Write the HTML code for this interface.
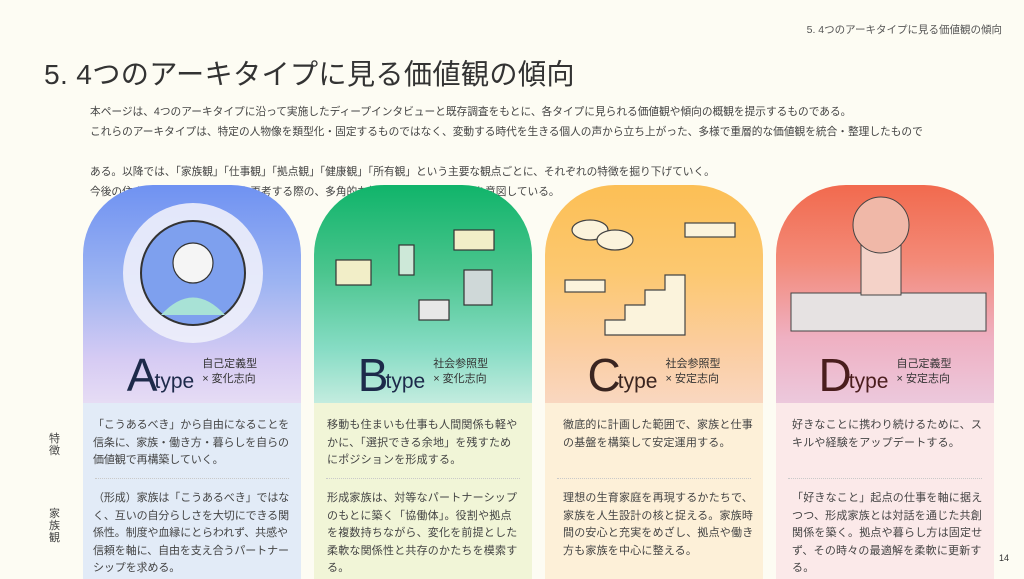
<!DOCTYPE html>
<html><head><meta charset="utf-8"><style>
*{margin:0;padding:0;box-sizing:border-box}
body{width:1024px;height:579px;background:#fdfcf3;font-family:"Liberation Sans","Noto Sans CJK JP",sans-serif;position:relative;overflow:hidden;color:#444}
.hdr{position:absolute;right:22px;top:22px;font-size:10.5px;color:#555}
h1{position:absolute;left:44px;top:52px;font-size:28.2px;font-weight:normal;color:#333;letter-spacing:0.3px}
.intro{position:absolute;left:90px;top:102px;font-size:10.7px;line-height:20px;color:#444}
.col{position:absolute;top:185px;width:218px;height:394px}
.top{position:absolute;left:0;top:0;width:218px;height:218px;border-radius:70px 70px 0 0;overflow:hidden}
.body{position:absolute;left:0;top:218px;width:218px;height:176px}
.lab{position:absolute;top:163px;left:0;width:218px;text-align:center;white-space:nowrap}
.big{font-size:46px;color:#1d2a4a;vertical-align:-3px}
.ty{font-size:21px;color:#1d2a4a;margin-left:-3px}
.sub{display:inline-block;font-size:11px;line-height:15px;text-align:left;margin-left:8px;vertical-align:6px;color:#333}
.t{position:absolute;left:13px;width:205px;font-size:11px;line-height:17.5px;color:#444;letter-spacing:0.2px;white-space:nowrap}
.t1{top:14px}.t2{top:87px}
.dot{position:absolute;left:12px;right:12px;top:75px;border-top:1px dotted #c9c9c9}
.side{position:absolute;left:49px;font-size:11px;width:12px;line-height:12px;color:#444}
</style></head><body>
<div class="hdr">5. 4つのアーキタイプに見る価値観の傾向</div>
<h1>5. 4つのアーキタイプに見る価値観の傾向</h1>
<div class="intro">本ページは、4つのアーキタイプに沿って実施したディープインタビューと既存調査をもとに、各タイプに見られる価値観や傾向の概観を提示するものである。<br>これらのアーキタイプは、特定の人物像を類型化・固定するものではなく、変動する時代を生きる個人の声から立ち上がった、多様で重層的な価値観を統合・整理したもので<br><br>ある。以降では、「家族観」「仕事観」「拠点観」「健康観」「所有観」という主要な観点ごとに、それぞれの特徴を掘り下げていく。<br>今後の住まいや暮らしの在り方を再考する際の、多角的な視点の一助となることを意図している。</div>

<div class="side" style="top:433px">特徴</div>
<div class="side" style="top:508px">家族観</div>

<div class="col" style="left:83px">
 <div class="top" style="background:linear-gradient(180deg,#6f92f2 0%,#9db4f2 45%,#d6cbf3 80%,#e6dcf4 100%)">
  <svg width="218" height="218" style="position:absolute;left:0;top:0"><circle cx="110" cy="88" r="70" fill="#eef0fb" opacity="0.9"/><circle cx="110" cy="88" r="52" fill="#7ea0ee" stroke="#333" stroke-width="2"/><circle cx="110" cy="78" r="20" fill="#f5f5f5" stroke="#333" stroke-width="1.2"/><path d="M78 130 Q110 95 142 130" fill="#a8e2d6"/></svg>
  <div class="lab"><span class="big">A</span><span class="ty">type</span><span class="sub">自己定義型<br>× 変化志向</span></div>
 </div>
 <div class="body" style="background:#e2ebf7">
  <div class="t t1" style="left:10px;letter-spacing:-0.1px">「こうあるべき」から自由になることを<br>信条に、家族・働き方・暮らしを自らの<br>価値観で再構築していく。</div>
  <div class="dot"></div>
  <div class="t t2" style="left:10px;letter-spacing:-0.1px">（形成）家族は「こうあるべき」ではな<br>く、互いの自分らしさを大切にできる関<br>係性。制度や血縁にとらわれず、共感や<br>信頼を軸に、自由を支え合うパートナー<br>シップを求める。</div>
 </div>
</div>

<div class="col" style="left:314px">
 <div class="top" style="background:linear-gradient(180deg,#10b46a 0%,#4bc58e 40%,#86dcc4 75%,#c3ecdf 100%)">
  <svg width="218" height="218" style="position:absolute;left:0;top:0" fill="#f2eec8" stroke="#333" stroke-width="1.2"><rect x="22" y="75" width="35" height="25"/><rect x="140" y="45" width="40" height="20"/><rect x="150" y="85" width="28" height="35" fill="#cfd8d8"/><rect x="105" y="115" width="30" height="20" fill="#e8e8e8"/><rect x="85" y="60" width="15" height="30" fill="#cde8d8"/></svg>
  <div class="lab"><span class="big">B</span><span class="ty">type</span><span class="sub">社会参照型<br>× 変化志向</span></div>
 </div>
 <div class="body" style="background:#f1f5d7">
  <div class="t t1">移動も住まいも仕事も人間関係も軽や<br>かに、「選択できる余地」を残すため<br>にポジションを形成する。</div>
  <div class="dot"></div>
  <div class="t t2">形成家族は、対等なパートナーシップ<br>のもとに築く「協働体」。役割や拠点<br>を複数持ちながら、変化を前提とした<br>柔軟な関係性と共存のかたちを模索す<br>る。</div>
 </div>
</div>

<div class="col" style="left:545px">
 <div class="top" style="background:linear-gradient(180deg,#fcbf55 0%,#fcc870 40%,#fbcda0 75%,#f9d7c0 100%)">
  <svg width="218" height="218" style="position:absolute;left:0;top:0" fill="#fbf3dc" stroke="#444" stroke-width="1.2"><path d="M60 150 L60 135 L80 135 L80 120 L100 120 L100 105 L120 105 L120 90 L140 90 L140 150 Z"/><rect x="20" y="95" width="40" height="12"/><rect x="140" y="38" width="50" height="14"/><ellipse cx="45" cy="45" rx="18" ry="10"/><ellipse cx="70" cy="55" rx="18" ry="10"/></svg>
  <div class="lab"><span class="big" style="color:#3a2520">C</span><span class="ty" style="color:#3a2520">type</span><span class="sub">社会参照型<br>× 安定志向</span></div>
 </div>
 <div class="body" style="background:#fdf0d8">
  <div class="t t1" style="left:18px">徹底的に計画した範囲で、家族と仕事<br>の基盤を構築して安定運用する。</div>
  <div class="dot"></div>
  <div class="t t2" style="left:18px">理想の生育家庭を再現するかたちで、<br>家族を人生設計の核と捉える。家族時<br>間の安心と充実をめざし、拠点や働き<br>方も家族を中心に整える。</div>
 </div>
</div>

<div class="col" style="left:776px">
 <div class="top" style="background:linear-gradient(180deg,#f26a4e 0%,#f38a78 35%,#efb0c2 70%,#ecc8dc 100%)">
  <svg width="218" height="218" style="position:absolute;left:0;top:0"><rect x="15" y="108" width="195" height="38" fill="#e6e2e2" stroke="#444"/><rect x="85" y="40" width="40" height="70" fill="#f4d2c8" stroke="#444"/><circle cx="105" cy="40" r="28" fill="#f0b8a8" stroke="#444"/></svg>
  <div class="lab"><span class="big" style="color:#4a1d1d">D</span><span class="ty" style="color:#4a1d1d">type</span><span class="sub">自己定義型<br>× 安定志向</span></div>
 </div>
 <div class="body" style="background:#fbe9e9">
  <div class="t t1" style="left:16px">好きなことに携わり続けるために、ス<br>キルや経験をアップデートする。</div>
  <div class="dot"></div>
  <div class="t t2" style="left:16px">「好きなこと」起点の仕事を軸に据え<br>つつ、形成家族とは対話を通じた共創<br>関係を築く。拠点や暮らし方は固定せ<br>ず、その時々の最適解を柔軟に更新す<br>る。</div>
 </div>
</div>
<div style="position:absolute;left:999px;top:553px;font-size:9px;color:#333">14</div>
</body></html>
